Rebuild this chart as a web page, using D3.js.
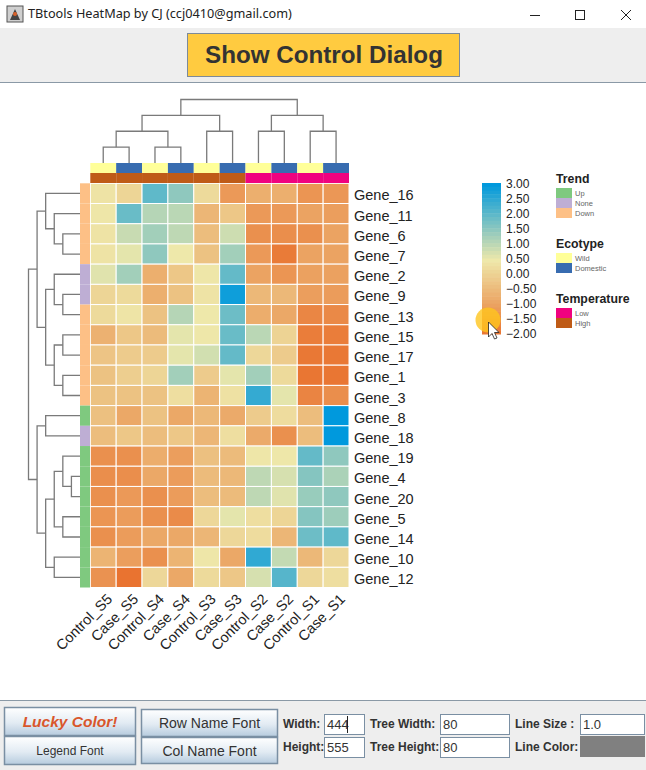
<!DOCTYPE html>
<html>
<head>
<meta charset="utf-8">
<title>TBtools HeatMap</title>
<script src="https://cdn.jsdelivr.net/npm/d3@7/dist/d3.min.js"></script>
<style>
  html, body { margin: 0; padding: 0; background: #fff; }
  svg { display: block; font-family: "Liberation Sans", Arial, sans-serif; }
</style>
</head>
<body>
<div id="chart"></div>
<script>
"use strict";

var samples = ["Control_S5", "Case_S5", "Control_S4", "Case_S4", "Control_S3",
               "Case_S3", "Control_S2", "Case_S2", "Control_S1", "Case_S1"];
var genes = ["Gene_16", "Gene_11", "Gene_6", "Gene_7", "Gene_2", "Gene_9", "Gene_13",
             "Gene_15", "Gene_17", "Gene_1", "Gene_3", "Gene_8", "Gene_18", "Gene_19",
             "Gene_4", "Gene_20", "Gene_5", "Gene_14", "Gene_10", "Gene_12"];

// one row per gene, same order as samples
var expression = [
  [ 0.40,  0.10,  2.00,  1.50,  0.20, -1.15, -0.70, -0.70, -1.25, -1.20],
  [ 0.45,  1.90,  1.10,  1.05, -0.55, -0.20, -1.15, -1.15, -0.95, -1.05],
  [ 0.40,  0.90,  1.30,  1.00, -0.40,  0.85, -1.35, -1.40, -1.35, -0.95],
  [ 0.40,  0.60,  1.50,  0.50, -0.30,  1.30, -1.15, -1.80, -0.95, -0.95],
  [ 0.65,  1.30, -0.70, -0.20,  0.45,  1.95, -0.95, -1.25, -1.00, -1.00],
  [ 0.10,  0.20, -0.70, -0.30,  0.40,  2.85, -0.50, -0.50, -1.05, -1.10],
  [ 0.20,  0.42, -0.30,  1.10,  0.50,  1.85, -0.75, -0.85, -1.55, -1.50],
  [-0.65, -0.20, -0.45,  0.60,  0.48,  1.90,  1.05,  0.05, -1.75, -1.75],
  [-0.25, -0.10, -0.10,  0.60,  0.80,  1.95,  0.15, -0.10, -1.85, -1.85],
  [-0.30, -0.05,  0.10,  1.30, -0.10,  0.60,  1.30,  0.20, -1.90, -1.90],
  [-0.30, -0.30, -0.30,  0.30, -0.60,  0.35,  2.45,  0.60, -1.60, -1.40],
  [-0.35, -0.85, -0.30, -0.85, -0.50, -0.80, -0.10,  0.25, -0.40,  3.00],
  [-0.40, -0.20, -0.40, -0.20, -0.55,  0.30, -0.80, -1.35, -0.40,  3.00],
  [-1.35, -1.35, -0.75, -1.05, -0.35, -0.45,  0.45,  0.48,  1.95,  1.50],
  [-1.40, -1.40, -0.85, -1.10, -0.45, -0.50,  1.00,  0.75,  1.60,  1.20],
  [-1.35, -1.15, -1.35, -1.10, -0.40, -0.45,  1.00,  0.65,  1.40,  1.50],
  [-1.25, -1.10, -1.35, -1.45,  0.15,  0.60,  0.30,  0.10,  1.60,  1.35],
  [-1.35, -1.10, -0.85, -0.85, -0.55,  0.15,  0.25, -0.55,  1.85,  2.00],
  [-0.60, -1.05, -1.35, -0.60,  0.45, -0.85,  2.50,  0.95, -0.50,  0.15],
  [-1.30, -1.95,  0.15, -0.85,  0.20, -0.20,  0.75,  2.10,  0.15,  0.30]
];

var trend = ["Down", "Down", "Down", "Down", "None", "None", "Down", "Down", "Down", "Down",
             "Down", "Up", "None", "Up", "Up", "Up", "Up", "Up", "Up", "Up"];
var ecotype = ["Wild", "Domestic", "Wild", "Domestic", "Wild", "Domestic", "Wild", "Domestic", "Wild", "Domestic"];
var temperature = ["High", "High", "High", "High", "High", "High", "Low", "Low", "Low", "Low"];

var trendLevels = ["Up", "None", "Down"];
var trendColors = ["#7fc97f", "#beaed4", "#fdc086"];
var ecotypeLevels = ["Wild", "Domestic"];
var ecotypeColors = ["#ffff99", "#386cb0"];
var temperatureLevels = ["Low", "High"];
var temperatureColors = ["#f0027f", "#bf5b17"];

var colorStops = [-2, 0.5, 3];
var colorRange = ["#e9712e", "#eee8aa", "#0099dd"];
var colorTicks = [3, 2.5, 2, 1.5, 1, 0.5, 0, -0.5, -1, -1.5, -2];

// trees as nested lists, leaves are names
var colTree = [[[["Control_S5", "Case_S5"], ["Control_S4", "Case_S4"]], ["Control_S3", "Case_S3"]],
               [["Control_S2", "Case_S2"], ["Control_S1", "Case_S1"]]];
var rowTree = [[["Gene_16", ["Gene_11", ["Gene_6", "Gene_7"]]],
                [["Gene_2", ["Gene_9", "Gene_13"]], [["Gene_15", "Gene_17"], ["Gene_1", "Gene_3"]]]],
               [["Gene_8", "Gene_18"],
                [[["Gene_19", ["Gene_4", "Gene_20"]], ["Gene_5", "Gene_14"]], ["Gene_10", "Gene_12"]]]];

var width = 646, height = 770;
var heat = { left: 90.3, right: 349, top: 183.3, bottom: 587.5 };

var svg = d3.select("#chart").append("svg")
  .attr("width", width)
  .attr("height", height);

var defs = svg.append("defs");
var btnGrad = defs.append("linearGradient")
  .attr("id", "btn-grad")
  .attr("x1", 0).attr("x2", 0).attr("y1", 0).attr("y2", 1);
btnGrad.append("stop").attr("offset", "0%").attr("stop-color", "#ffffff");
btnGrad.append("stop").attr("offset", "55%").attr("stop-color", "#e2ebf3");
btnGrad.append("stop").attr("offset", "100%").attr("stop-color", "#b6cbde");

var x = d3.scaleBand().domain(samples).range([heat.left, heat.right]);
var y = d3.scaleBand().domain(genes).range([heat.top, heat.bottom]);
var color = d3.scaleLinear().domain(colorStops).range(colorRange).clamp(true);

drawWindow();
drawHeatmap();
drawAnnotations();
drawColTree();
drawRowTree();
drawLabels();
drawColorBar();
drawLegends();
drawControls();

function drawWindow() {
  svg.append("rect").attr("width", width).attr("height", height).attr("fill", "#fff");

  // title bar
  var icon = svg.append("g").attr("transform", "translate(7,6)");
  icon.append("rect").attr("width", 16).attr("height", 16).attr("fill", "#cfcfcf").attr("stroke", "#555");
  icon.append("path").attr("d", "M3 14 L8 3 L13 14 Z").attr("fill", "#444");
  icon.append("circle").attr("cx", 8).attr("cy", 8).attr("r", 2).attr("fill", "#d9622b");

  svg.append("text").attr("x", 28).attr("y", 18)
    .attr("font-family", "'Noto Sans', sans-serif")
    .attr("font-size", 12.7).attr("fill", "#222")
    .text("TBtools HeatMap by CJ (ccj0410@gmail.com)");

  svg.append("path").attr("d", "M530 15.5 H540").attr("stroke", "#222").attr("fill", "none");
  svg.append("rect").attr("x", 575.5).attr("y", 10.5).attr("width", 9).attr("height", 9)
    .attr("fill", "none").attr("stroke", "#222");
  svg.append("path").attr("d", "M621 10 L631 20 M631 10 L621 20").attr("stroke", "#222").attr("fill", "none");

  // top panel
  svg.append("rect").attr("y", 28).attr("width", width).attr("height", 54).attr("fill", "#eeeeee");
  svg.append("line").attr("x1", 0).attr("x2", width).attr("y1", 82.5).attr("y2", 82.5).attr("stroke", "#8a99a6");
  svg.append("rect").attr("x", 187.5).attr("y", 33.5).attr("width", 272).attr("height", 43)
    .attr("fill", "#ffcb40").attr("stroke", "#7d8a99");
  svg.append("text").attr("x", 324).attr("y", 63)
    .attr("text-anchor", "middle")
    .attr("font-size", 24.2).attr("font-weight", "bold").attr("fill", "#333")
    .text("Show Control Dialog");
}

function drawHeatmap() {
  var rows = svg.append("g").selectAll("g")
    .data(expression)
    .enter().append("g")
    .attr("transform", function(d, i) { return "translate(0," + y(genes[i]) + ")"; });

  rows.selectAll("rect")
    .data(function(d) { return d; })
    .enter().append("rect")
    .attr("x", function(d, i) { return x(samples[i]); })
    .attr("width", x.bandwidth())
    .attr("height", y.bandwidth())
    .attr("fill", function(d) { return color(d); })
    .attr("stroke", "#fff")
    .attr("stroke-width", 1);
}

function drawAnnotations() {
  var trendScale = d3.scaleOrdinal().domain(trendLevels).range(trendColors);
  var ecoScale = d3.scaleOrdinal().domain(ecotypeLevels).range(ecotypeColors);
  var tempScale = d3.scaleOrdinal().domain(temperatureLevels).range(temperatureColors);

  svg.append("g").selectAll("rect")
    .data(trend)
    .enter().append("rect")
    .attr("x", 80).attr("width", 10)
    .attr("y", function(d, i) { return y(genes[i]); })
    .attr("height", y.bandwidth())
    .attr("fill", function(d) { return trendScale(d); });

  svg.append("g").selectAll("rect")
    .data(ecotype)
    .enter().append("rect")
    .attr("x", function(d, i) { return x(samples[i]); })
    .attr("width", x.bandwidth())
    .attr("y", 163).attr("height", 10)
    .attr("fill", function(d) { return ecoScale(d); });

  svg.append("g").selectAll("rect")
    .data(temperature)
    .enter().append("rect")
    .attr("x", function(d, i) { return x(samples[i]); })
    .attr("width", x.bandwidth())
    .attr("y", 173).attr("height", 10)
    .attr("fill", function(d) { return tempScale(d); });
}

// Fill in node positions: leaves from the band scale, parents halfway between children
function layoutTree(tree, leafPos) {
  var root = d3.hierarchy(tree, function(d) { return Array.isArray(d) ? d : null; });
  root.eachAfter(function(node) {
    if (node.children) {
      node.pos = d3.mean(node.children, function(c) { return c.pos; });
    } else {
      node.pos = leafPos(node.data);
    }
  });
  return root;
}

function drawColTree() {
  var root = layoutTree(colTree, function(name) { return x(name) + x.bandwidth() / 2; });
  var depthY = d3.scaleLinear().domain([0, 4]).range([99.5, 163]);

  svg.append("g").selectAll("path")
    .data(root.descendants().filter(function(d) { return d.children; }))
    .enter().append("path")
    .attr("fill", "none")
    .attr("stroke", "#7a7a7a")
    .attr("stroke-width", 1.3)
    .attr("d", function(d) {
      var py = depthY(d.depth);
      return d.children.map(function(c) {
        var cy = c.children ? depthY(c.depth) : depthY(4);
        return "M" + c.pos + "," + cy + "V" + py + "H" + d.pos;
      }).join("");
    });
}

function drawRowTree() {
  var root = layoutTree(rowTree, function(name) { return y(name) + y.bandwidth() / 2; });
  var depthX = d3.scaleLinear().domain([0, 6]).range([28.5, 80]);

  svg.append("g").selectAll("path")
    .data(root.descendants().filter(function(d) { return d.children; }))
    .enter().append("path")
    .attr("fill", "none")
    .attr("stroke", "#7a7a7a")
    .attr("stroke-width", 1.3)
    .attr("d", function(d) {
      var px = depthX(d.depth);
      return d.children.map(function(c) {
        var cx = c.children ? depthX(c.depth) : depthX(6);
        return "M" + cx + "," + c.pos + "H" + px + "V" + d.pos;
      }).join("");
    });
}

function drawLabels() {
  svg.append("g").selectAll("text")
    .data(genes)
    .enter().append("text")
    .attr("x", 354)
    .attr("y", function(d) { return y(d) + y.bandwidth() / 2 + 7; })
    .attr("font-size", 14.5)
    .attr("fill", "#222")
    .text(function(d) { return d; });

  svg.append("g").selectAll("text")
    .data(samples)
    .enter().append("text")
    .attr("transform", function(d) {
      return "translate(" + (x(d) + x.bandwidth() / 2 + 10) + ",600) rotate(-45)";
    })
    .attr("text-anchor", "end")
    .attr("font-size", 14.5)
    .attr("fill", "#222")
    .text(function(d) { return d; });
}

function drawColorBar() {
  var barY = d3.scaleLinear().domain([3, -2]).range([183, 334]);
  var steps = d3.range(3, -2, -0.125);

  svg.append("g").selectAll("rect")
    .data(steps)
    .enter().append("rect")
    .attr("x", 482).attr("width", 19)
    .attr("y", function(d) { return barY(d); })
    .attr("height", barY(0) - barY(0.125) + 0.5)
    .attr("fill", function(d) { return color(d); });

  var tickY = d3.scaleLinear().domain([3, -2]).range([183.5, 333]);
  svg.append("g").selectAll("text")
    .data(colorTicks)
    .enter().append("text")
    .attr("x", 506)
    .attr("y", function(d) { return tickY(d) + 4.5; })
    .attr("font-size", 12)
    .attr("fill", "#222")
    .text(function(d) { return d3.format(".2f")(d); });

  // recording highlight and mouse pointer sitting on the bar
  svg.append("circle").attr("cx", 488).attr("cy", 320).attr("r", 12.5)
    .attr("fill", "#ffc61e").attr("fill-opacity", 0.8);
  svg.append("path")
    .attr("d", "M488.5 322 V337 L492 333.5 L494.5 339 L497 338 L494.5 332.5 L499 332.5 Z")
    .attr("fill", "#fff").attr("stroke", "#222").attr("stroke-width", 0.8);
}

function drawLegends() {
  drawLegend("Trend", 183, 188, trendLevels, trendColors);
  drawLegend("Ecotype", 248, 253, ecotypeLevels, ecotypeColors);
  drawLegend("Temperature", 303, 308, temperatureLevels, temperatureColors);
}

function drawLegend(title, titleY, top, levels, colors) {
  svg.append("text").attr("x", 556).attr("y", titleY)
    .attr("font-size", 12.3).attr("font-weight", "bold").attr("fill", "#222")
    .text(title);

  var items = svg.append("g").selectAll("g")
    .data(levels)
    .enter().append("g")
    .attr("transform", function(d, i) { return "translate(556," + (top + i * 10) + ")"; });

  items.append("rect").attr("width", 16).attr("height", 10)
    .attr("fill", function(d, i) { return colors[i]; });
  items.append("text").attr("x", 19).attr("y", 8)
    .attr("font-size", 7.5).attr("fill", "#666")
    .text(function(d) { return d; });
}

function drawControls() {
  svg.append("rect").attr("y", 700).attr("width", width).attr("height", 70).attr("fill", "#eeeeee");
  svg.append("line").attr("x1", 0).attr("x2", width).attr("y1", 700.5).attr("y2", 700.5).attr("stroke", "#8a99a6");

  drawButton(4.5, 707.5, 131, 28, "Lucky Color!", { size: 15.5, color: "#d9562b", bold: true, italic: true });
  drawButton(4.5, 736.5, 131, 28, "Legend Font", { size: 12, color: "#333" });
  drawButton(141.5, 709.5, 136, 27, "Row Name Font", { size: 14, color: "#333" });
  drawButton(141.5, 737.5, 136, 26, "Col Name Font", { size: 14, color: "#333" });

  drawField("Width:", 283, 324, 40, 714, "444");
  drawField("Height:", 283, 324, 40, 737, "555");
  drawField("Tree Width:", 370, 440, 69, 714, "80");
  drawField("Tree Height:", 370, 440, 69, 737, "80");
  drawField("Line Size :", 515, 580, 64, 714, "1.0");

  svg.append("text").attr("x", 515).attr("y", 751)
    .attr("font-size", 12).attr("font-weight", "bold").attr("fill", "#333")
    .text("Line Color:");
  svg.append("rect").attr("x", 580).attr("y", 736).attr("width", 65).attr("height", 21).attr("fill", "#808080");

  // caret in the width box
  svg.append("line").attr("x1", 347.5).attr("x2", 347.5).attr("y1", 716).attr("y2", 733).attr("stroke", "#222");
}

function drawButton(bx, by, w, h, label, style) {
  svg.append("rect").attr("x", bx).attr("y", by).attr("width", w).attr("height", h)
    .attr("fill", "url(#btn-grad)").attr("stroke", "#7a8fa3").attr("stroke-width", 1.5);
  svg.append("text").attr("x", bx + w / 2).attr("y", by + h / 2 + style.size * 0.36)
    .attr("text-anchor", "middle")
    .attr("font-size", style.size)
    .attr("font-weight", style.bold ? "bold" : "normal")
    .attr("font-style", style.italic ? "italic" : "normal")
    .attr("fill", style.color)
    .text(label);
}

function drawField(label, lx, fx, w, fy, value) {
  svg.append("text").attr("x", lx).attr("y", fy + 14)
    .attr("font-size", 12).attr("font-weight", "bold").attr("fill", "#333")
    .text(label);
  svg.append("rect").attr("x", fx + 0.5).attr("y", fy + 0.5).attr("width", w).attr("height", 20)
    .attr("fill", "#fff").attr("stroke", "#7a8fa3");
  svg.append("text").attr("x", fx + 3).attr("y", fy + 15)
    .attr("font-size", 13).attr("fill", "#333")
    .text(value);
}
</script>
</body>
</html>
